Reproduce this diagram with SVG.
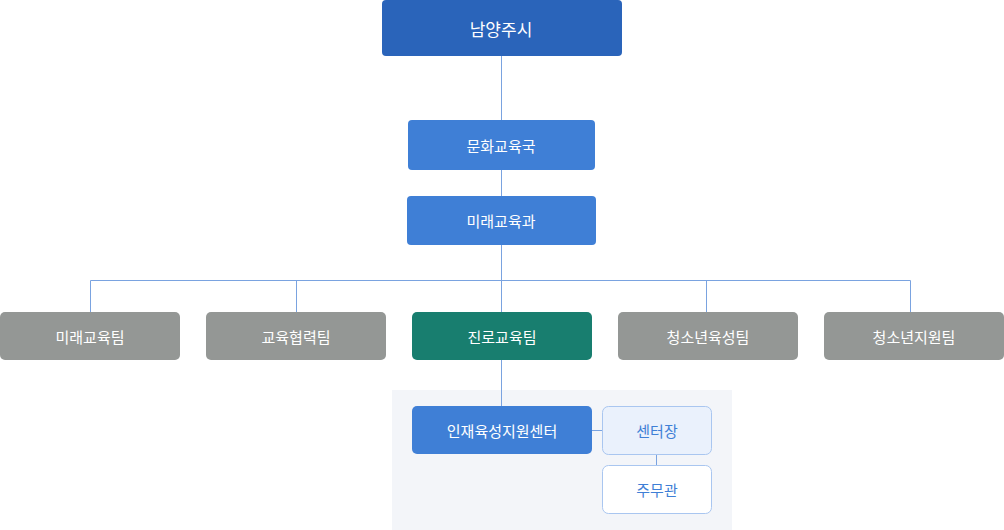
<svg xmlns="http://www.w3.org/2000/svg" width="1004" height="530" viewBox="0 0 1004 530">
<style>
text{font-family:"Noto Sans CJK KR","Noto Sans",sans-serif;text-anchor:middle;dominant-baseline:central}
.w{fill:#fff;font-size:15px}
.b{fill:#3f7fd6}
.g{fill:#949795}
.ln{stroke:#7aa3e0;stroke-width:1;fill:none}
</style>
<rect x="392" y="390" width="340" height="140" fill="#f3f5f9"/>
<g id="connectors" class="ln">
<path d="M501.5 56V120M501.5 170V196M501.5 245V312M90.5 312V280.5H910.5V312M296.5 280.5V312M706.5 280.5V312M501.5 360V406M592 430.5H602M656.5 454V465"/>
</g>
<g id="n1"><rect x="382" y="0" width="240" height="56" rx="4" fill="#2a64ba"/><text x="501" y="28" class="w" font-size="17" style="font-size:17px">남양주시</text></g>
<g id="n2"><rect x="408" y="120" width="187" height="50" rx="4" class="b"/><text x="501" y="145" class="w">문화교육국</text></g>
<g id="n3"><rect x="407" y="196" width="189" height="49" rx="4" class="b"/><text x="501" y="220" class="w">미래교육과</text></g>
<g id="t1"><rect x="0" y="312" width="180" height="48" rx="5" class="g"/><text x="90" y="336" class="w">미래교육팀</text></g>
<g id="t2"><rect x="206" y="312" width="180" height="48" rx="5" class="g"/><text x="296" y="336" class="w">교육협력팀</text></g>
<g id="t3"><rect x="412" y="312" width="180" height="48" rx="5" fill="#187e6f"/><text x="502" y="336" class="w">진로교육팀</text></g>
<g id="t4"><rect x="618" y="312" width="180" height="48" rx="5" class="g"/><text x="708" y="336" class="w">청소년육성팀</text></g>
<g id="t5"><rect x="824" y="312" width="180" height="48" rx="5" class="g"/><text x="914" y="336" class="w">청소년지원팀</text></g>
<g id="c1"><rect x="412" y="406" width="180" height="48" rx="5" class="b"/><text x="502" y="430" class="w">인재육성지원센터</text></g>
<g id="c2"><rect x="602.5" y="406.5" width="109" height="48" rx="6" fill="#eaf1fc" stroke="#a9c6f0"/><text x="657" y="430" fill="#3f7fd6" font-size="15">센터장</text></g>
<g id="c3"><rect x="602.5" y="465.5" width="109" height="48" rx="6" fill="#fff" stroke="#a9c6f0"/><text x="657" y="489" fill="#3f7fd6" font-size="15">주무관</text></g>
</svg>
